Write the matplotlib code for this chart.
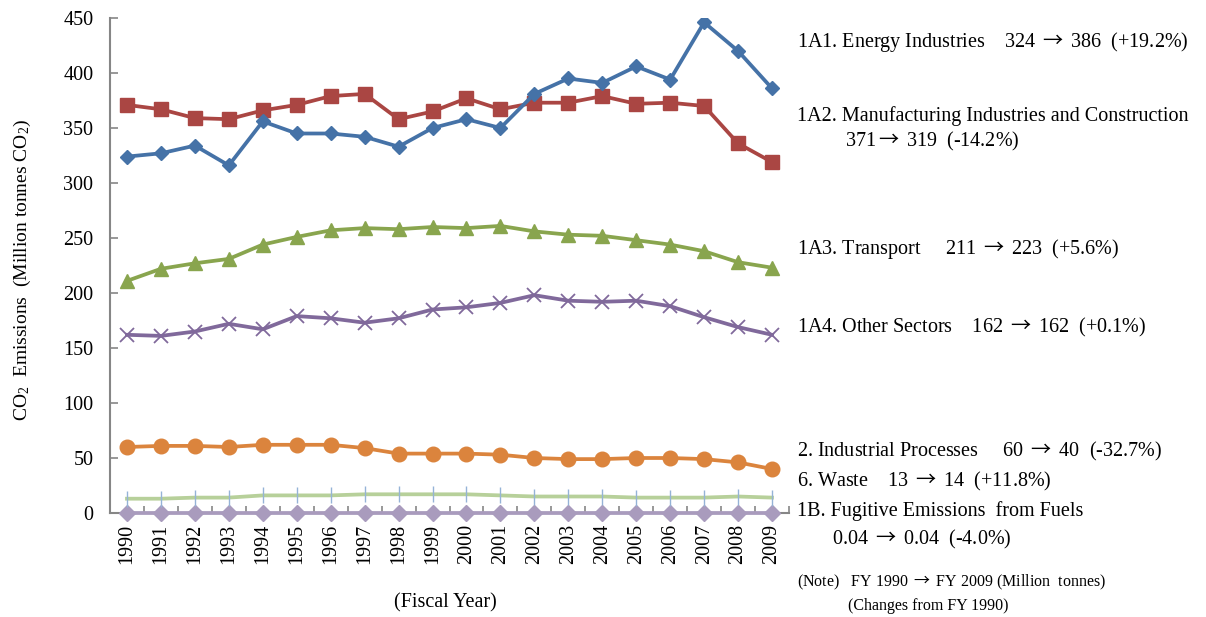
import matplotlib
matplotlib.use("Agg")
import matplotlib.pyplot as plt
import numpy as np

plt.rcParams['font.family'] = ['Liberation Serif', 'DejaVu Serif']
plt.rcParams['mathtext.fontset'] = 'custom'
plt.rcParams['mathtext.rm'] = 'Liberation Serif'
plt.rcParams['mathtext.it'] = 'Liberation Serif:italic'
plt.rcParams['mathtext.sf'] = 'Noto Sans CJK JP'

years = [str(y) for y in range(1990, 2010)]

energy = [324, 327, 334, 316, 356, 345, 345, 342, 333, 350, 358, 350, 381, 395, 391, 406, 394, 446, 420, 386]
manufacturing = [371, 367, 359, 358, 366, 371, 379, 381, 358, 365, 377, 367, 373, 373, 379, 372, 373, 370, 336, 319]
transport = [211, 222, 227, 231, 244, 251, 257, 259, 258, 260, 259, 261, 256, 253, 252, 248, 244, 238, 228, 223]
other = [162, 161, 165, 172, 167, 179, 177, 173, 177, 185, 187, 191, 198, 193, 192, 193, 188, 178, 169, 162]
industrial = [60, 61, 61, 60, 62, 62, 62, 59, 54, 54, 54, 53, 50, 49, 49, 50, 50, 49, 46, 40]
waste = [13, 13, 14, 14, 16, 16, 16, 17, 17, 17, 17, 16, 15, 15, 15, 14, 14, 14, 15, 14]
fugitive = [0.04] * 20

AR = r"$\mathsf{\rightarrow}$"
labels = [
    (f"1A1. Energy Industries    324 {AR} 386  (+19.2%)", 797, 42),
    ("1A2. Manufacturing Industries and Construction", 797, 116),
    (f"371{AR} 319  (-14.2%)", 845, 141),
    (f"1A3. Transport     211 {AR} 223  (+5.6%)", 797, 249),
    (f"1A4. Other Sectors    162 {AR} 162  (+0.1%)", 797, 327),
    (f"2. Industrial Processes     60 {AR} 40  (-32.7%)", 797, 451),
    (f"6. Waste    13 {AR} 14  (+11.8%)", 797, 481),
    ("1B. Fugitive Emissions  from Fuels", 797, 511),
    (f"0.04 {AR} 0.04  (-4.0%)", 832, 539),
]
notes = [
    (f"(Note)   FY 1990 {AR} FY 2009 (Million  tonnes)", 797, 582),
    ("(Changes from FY 1990)", 848, 606),
]

W, H = 1206, 617
fig = plt.figure(figsize=(W / 100, H / 100), dpi=100)
ax = fig.add_axes([110 / W, (H - 513) / H, (789 - 110) / W, (513 - 18) / H])

x = np.arange(len(years))
lw = 2.7
ax.plot(x, fugitive, color='#A99BBD', lw=lw, marker='D', ms=8, mec='#A99BBD', zorder=3, clip_on=False)
ax.plot(x, waste, color='#B7D09A', lw=lw, marker='|', ms=11, mec='#95B3D7', mew=1.0, zorder=3)
ax.plot(x, industrial, color='#DB843D', lw=lw, marker='o', ms=10.5, mec='#DB843D', zorder=4)
ax.plot(x, other, color='#80699B', lw=lw, marker='x', ms=10, mew=1.3, mec='#80699B', zorder=4)
ax.plot(x, transport, color='#89A54E', lw=lw, marker='^', ms=10.5, mec='#89A54E', zorder=4)
ax.plot(x, manufacturing, color='#AA4643', lw=lw, marker='s', ms=10.5, mec='#AA4643', zorder=5)
ax.plot(x, energy, color='#4572A7', lw=lw, marker='D', ms=7.5, mec='#4572A7', zorder=6)

ax.set_xlim(-0.5, len(years) - 0.5)
ax.set_ylim(0, 450)
ax.set_yticks(np.arange(0, 451, 50))
ax.set_xticks(x)
ax.set_xticklabels(years, rotation=90, fontsize=14.5)
ax.set_xticks(np.arange(-0.5, len(years), 1), minor=True)
ax.tick_params(axis='x', which='major', length=0, pad=8)
ax.tick_params(axis='x', which='minor', direction='in', length=5, color='#868686', width=1.2)
ax.tick_params(axis='y', direction='in', length=6, color='#868686', width=1.2, labelsize=14.5, pad=12)
for s in ['top', 'right']:
    ax.spines[s].set_visible(False)
for s in ['left', 'bottom']:
    ax.spines[s].set_color('#868686')
    ax.spines[s].set_linewidth(1.5)

fig.text(22 / W, 1 - 270 / H, r"CO$_2$  Emissions  (Million tonnes CO$_2$)", rotation=90,
         ha='center', va='center', fontsize=14)
fig.text(445 / W, 1 - 603 / H, "(Fiscal Year)", ha='center', va='center', fontsize=14.5)

for t, px, py in labels:
    fig.text(px / W, 1 - py / H, t, ha='left', va='center', fontsize=14.5)
for t, px, py in notes:
    fig.text(px / W, 1 - py / H, t, ha='left', va='center', fontsize=11.5)

fig.savefig('out.png', dpi=100, facecolor='white')
